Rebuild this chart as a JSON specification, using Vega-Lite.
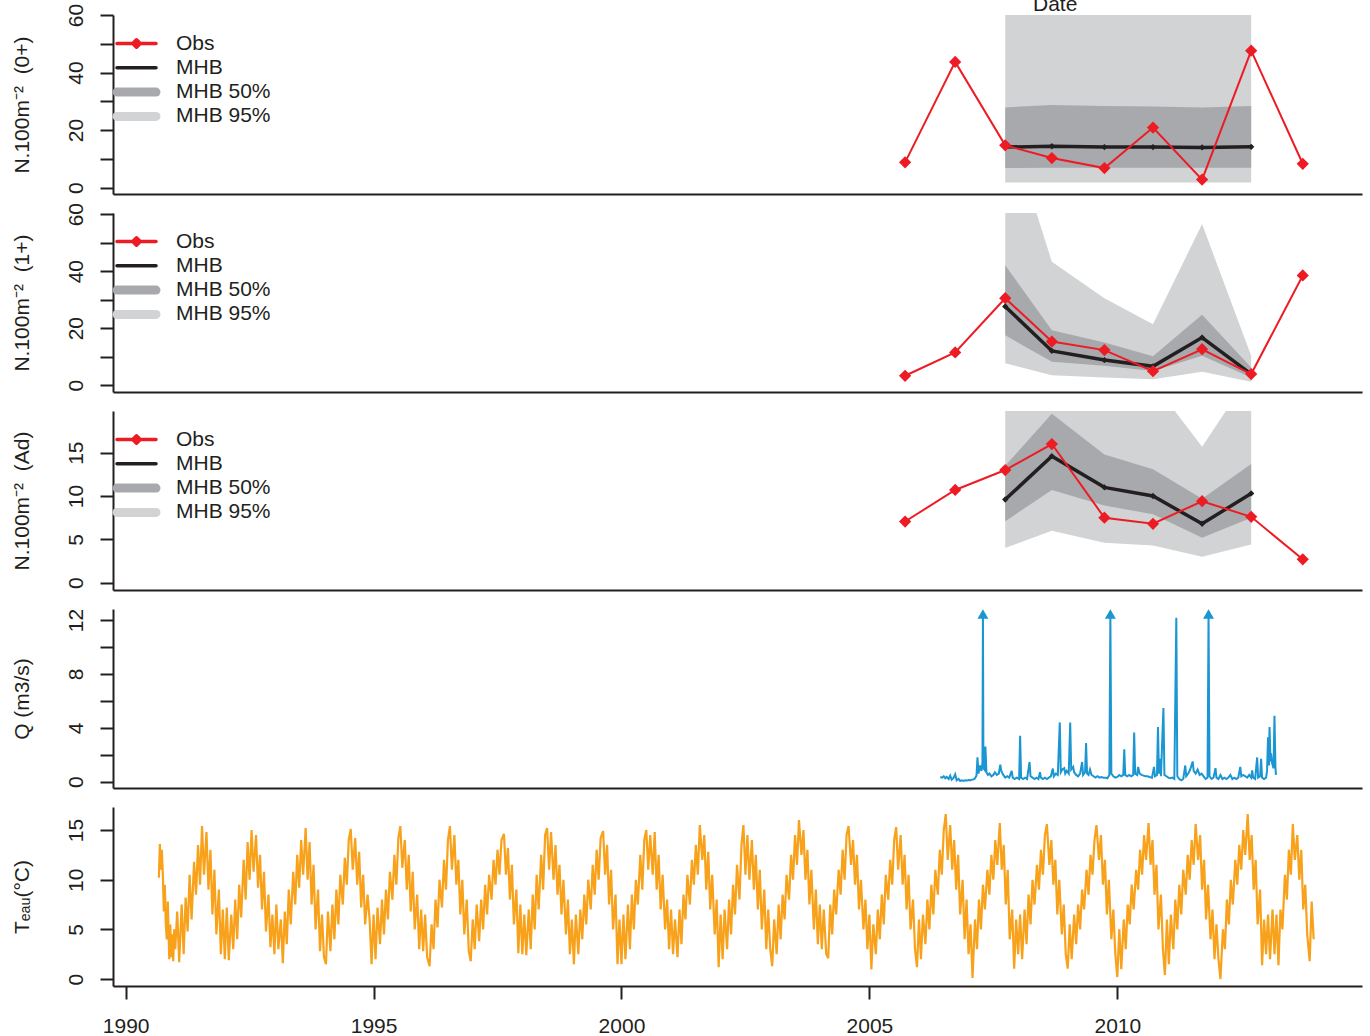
{
"$schema": "https://vega.github.io/schema/vega-lite/v6.json",
"padding": {"left": 11, "top": -6, "right": 2, "bottom": 0},
"background": "white",
"spacing": 19,
"bounds": "flush",
"config": {
  "view": {"stroke": null},
  "font": "Liberation Sans",
  "axis": {"domainColor": "#231F20", "domainWidth": 2, "tickColor": "#231F20", "tickWidth": 2, "tickSize": 13, "grid": false, "labelFont": "Liberation Sans", "labelFontSize": 21, "labelColor": "#231F20", "titleFont": "Liberation Sans", "titleFontSize": 21, "titleFontWeight": "normal", "titleColor": "#231F20", "labelFlush": false, "labelOverlap": false},
  "axisY": {"labelAngle": 270, "labelAlign": "center", "labelBaseline": "alphabetic", "labelPadding": 18, "titleAngle": 270, "titleX": -85, "titleY": 89.5, "titleAlign": "center", "titleBaseline": "alphabetic"}
},
"resolve": {"scale": {"color": "independent"}, "legend": {"color": "independent"}},
"datasets": {
  "b1": [
    {"s":"MHB 95%","t":2007.74,"v":1.8,"v2":80},{"s":"MHB 95%","t":2008.68,"v":1.8,"v2":80},{"s":"MHB 95%","t":2009.74,"v":1.8,"v2":80},{"s":"MHB 95%","t":2010.72,"v":1.8,"v2":80},{"s":"MHB 95%","t":2011.71,"v":1.8,"v2":80},{"s":"MHB 95%","t":2012.70,"v":1.8,"v2":80},
    {"s":"MHB 50%","t":2007.74,"v":6.8,"v2":27.9},{"s":"MHB 50%","t":2008.68,"v":6.9,"v2":28.7},{"s":"MHB 50%","t":2009.74,"v":6.9,"v2":28.4},{"s":"MHB 50%","t":2010.72,"v":6.9,"v2":28.2},{"s":"MHB 50%","t":2011.71,"v":6.9,"v2":27.9},{"s":"MHB 50%","t":2012.70,"v":6.9,"v2":28.4}
  ],
  "l1": [
    {"s":"Obs","t":2005.72,"v":8.8},{"s":"Obs","t":2006.73,"v":43.7},{"s":"Obs","t":2007.74,"v":14.7},{"s":"Obs","t":2008.68,"v":10.3},{"s":"Obs","t":2009.74,"v":6.8},{"s":"Obs","t":2010.72,"v":20.9},{"s":"Obs","t":2011.71,"v":2.8},{"s":"Obs","t":2012.70,"v":47.6},{"s":"Obs","t":2013.74,"v":8.3},
    {"s":"MHB","t":2007.74,"v":14.1},{"s":"MHB","t":2008.68,"v":14.4},{"s":"MHB","t":2009.74,"v":14.1},{"s":"MHB","t":2010.72,"v":14.1},{"s":"MHB","t":2011.71,"v":14.0},{"s":"MHB","t":2012.70,"v":14.2}
  ],
  "b2": [
    {"s":"MHB 95%","t":2007.74,"v":7.7,"v2":95},{"s":"MHB 95%","t":2008.68,"v":3.5,"v2":43.3},{"s":"MHB 95%","t":2009.74,"v":2.7,"v2":30.5},{"s":"MHB 95%","t":2010.72,"v":2.1,"v2":21.4},{"s":"MHB 95%","t":2011.71,"v":4.7,"v2":56.5},{"s":"MHB 95%","t":2012.70,"v":1.2,"v2":10.3},
    {"s":"MHB 50%","t":2007.74,"v":17.5,"v2":42.1},{"s":"MHB 50%","t":2008.68,"v":8.2,"v2":19.3},{"s":"MHB 50%","t":2009.74,"v":6.8,"v2":15.0},{"s":"MHB 50%","t":2010.72,"v":5.0,"v2":10.1},{"s":"MHB 50%","t":2011.71,"v":10.3,"v2":24.7},{"s":"MHB 50%","t":2012.70,"v":2.7,"v2":6.2}
  ],
  "l2": [
    {"s":"Obs","t":2005.72,"v":3.3},{"s":"Obs","t":2006.73,"v":11.5},{"s":"Obs","t":2007.74,"v":30.5},{"s":"Obs","t":2008.68,"v":15.3},{"s":"Obs","t":2009.74,"v":12.3},{"s":"Obs","t":2010.72,"v":4.9},{"s":"Obs","t":2011.71,"v":12.6},{"s":"Obs","t":2012.70,"v":3.9},{"s":"Obs","t":2013.74,"v":38.5},
    {"s":"MHB","t":2007.74,"v":27.6},{"s":"MHB","t":2008.68,"v":12.0},{"s":"MHB","t":2009.74,"v":8.8},{"s":"MHB","t":2010.72,"v":6.6},{"s":"MHB","t":2011.71,"v":16.7},{"s":"MHB","t":2012.70,"v":3.9}
  ],
  "b3": [
    {"s":"MHB 95%","t":2007.74,"v":4.0,"v2":25},{"s":"MHB 95%","t":2008.68,"v":6.0,"v2":30},{"s":"MHB 95%","t":2009.74,"v":4.6,"v2":26},{"s":"MHB 95%","t":2010.72,"v":4.3,"v2":23.1},{"s":"MHB 95%","t":2011.71,"v":3.0,"v2":15.7},{"s":"MHB 95%","t":2012.70,"v":4.4,"v2":24.2},
    {"s":"MHB 50%","t":2007.74,"v":7.1,"v2":13.5},{"s":"MHB 50%","t":2008.68,"v":10.7,"v2":19.5},{"s":"MHB 50%","t":2009.74,"v":8.9,"v2":14.8},{"s":"MHB 50%","t":2010.72,"v":7.9,"v2":13.1},{"s":"MHB 50%","t":2011.71,"v":5.2,"v2":9.7},{"s":"MHB 50%","t":2012.70,"v":7.5,"v2":13.7}
  ],
  "l3": [
    {"s":"Obs","t":2005.72,"v":7.06},{"s":"Obs","t":2006.73,"v":10.7},{"s":"Obs","t":2007.74,"v":13.0},{"s":"Obs","t":2008.68,"v":16.0},{"s":"Obs","t":2009.74,"v":7.5},{"s":"Obs","t":2010.72,"v":6.8},{"s":"Obs","t":2011.71,"v":9.4},{"s":"Obs","t":2012.70,"v":7.6},{"s":"Obs","t":2013.74,"v":2.7},
    {"s":"MHB","t":2007.74,"v":9.6},{"s":"MHB","t":2008.68,"v":14.6},{"s":"MHB","t":2009.74,"v":11.0},{"s":"MHB","t":2010.72,"v":10.0},{"s":"MHB","t":2011.71,"v":6.8},{"s":"MHB","t":2012.70,"v":10.3}
  ],
  "arrows": [{"t":2007.29,"q":12.45},{"t":2009.86,"q":12.45},{"t":2011.84,"q":12.45}],
  "q": [
    {"t":2006.43,"q":0.35},{"t":2006.47,"q":0.30},{"t":2006.50,"q":0.40},{"t":2006.53,"q":0.25},{"t":2006.56,"q":0.35},{"t":2006.60,"q":0.20},{"t":2006.63,"q":0.45},{"t":2006.66,"q":0.15},{"t":2006.70,"q":0.30},{"t":2006.73,"q":0.55},{"t":2006.76,"q":0.10},{"t":2006.80,"q":0.20},{"t":2006.83,"q":0.05},{"t":2006.86,"q":0.10},{"t":2006.90,"q":0.05},{"t":2006.93,"q":0.10},{"t":2006.97,"q":0.08},{"t":2007.00,"q":0.12},{"t":2007.04,"q":0.10},{"t":2007.08,"q":0.15},{"t":2007.12,"q":0.20},{"t":2007.16,"q":0.45},{"t":2007.18,"q":1.80},{"t":2007.20,"q":0.60},{"t":2007.23,"q":1.20},{"t":2007.26,"q":0.80},{"t":2007.28,"q":1.40},{"t":2007.29,"q":12.40},{"t":2007.30,"q":1.00},{"t":2007.32,"q":0.90},{"t":2007.34,"q":2.60},{"t":2007.36,"q":0.70},{"t":2007.39,"q":0.50},{"t":2007.42,"q":0.60},{"t":2007.46,"q":0.40},{"t":2007.50,"q":0.50},{"t":2007.53,"q":0.70},{"t":2007.57,"q":0.50},{"t":2007.61,"q":0.60},{"t":2007.64,"q":1.26},{"t":2007.66,"q":0.80},{"t":2007.70,"q":0.50},{"t":2007.74,"q":0.30},{"t":2007.78,"q":0.40},{"t":2007.82,"q":0.30},{"t":2007.87,"q":0.80},{"t":2007.89,"q":0.30},{"t":2007.93,"q":0.20},{"t":2007.97,"q":0.30},{"t":2008.02,"q":0.20},{"t":2008.04,"q":3.40},{"t":2008.06,"q":0.30},{"t":2008.10,"q":0.20},{"t":2008.14,"q":0.30},{"t":2008.18,"q":0.20},{"t":2008.23,"q":1.46},{"t":2008.25,"q":0.40},{"t":2008.29,"q":0.30},{"t":2008.33,"q":0.20},{"t":2008.37,"q":0.30},{"t":2008.41,"q":0.20},{"t":2008.44,"q":0.70},{"t":2008.46,"q":0.30},{"t":2008.50,"q":0.20},{"t":2008.54,"q":0.30},{"t":2008.58,"q":0.20},{"t":2008.62,"q":0.30},{"t":2008.66,"q":0.40},{"t":2008.70,"q":0.97},{"t":2008.72,"q":0.40},{"t":2008.76,"q":0.60},{"t":2008.80,"q":0.50},{"t":2008.84,"q":4.40},{"t":2008.86,"q":0.70},{"t":2008.89,"q":0.90},{"t":2008.93,"q":1.00},{"t":2008.95,"q":0.60},{"t":2008.98,"q":0.80},{"t":2009.02,"q":0.60},{"t":2009.05,"q":4.40},{"t":2009.07,"q":0.90},{"t":2009.11,"q":1.10},{"t":2009.13,"q":0.70},{"t":2009.17,"q":0.50},{"t":2009.21,"q":0.40},{"t":2009.25,"q":0.60},{"t":2009.29,"q":1.46},{"t":2009.31,"q":0.50},{"t":2009.35,"q":0.70},{"t":2009.37,"q":2.86},{"t":2009.39,"q":0.60},{"t":2009.42,"q":0.50},{"t":2009.45,"q":0.90},{"t":2009.48,"q":0.50},{"t":2009.52,"q":0.40},{"t":2009.56,"q":0.30},{"t":2009.60,"q":0.40},{"t":2009.64,"q":0.30},{"t":2009.68,"q":0.35},{"t":2009.72,"q":0.30},{"t":2009.76,"q":0.30},{"t":2009.80,"q":0.25},{"t":2009.84,"q":0.50},{"t":2009.86,"q":12.40},{"t":2009.88,"q":0.60},{"t":2009.92,"q":0.40},{"t":2009.96,"q":0.30},{"t":2010.00,"q":0.35},{"t":2010.04,"q":0.50},{"t":2010.08,"q":0.40},{"t":2010.12,"q":0.50},{"t":2010.14,"q":2.40},{"t":2010.16,"q":0.50},{"t":2010.20,"q":0.40},{"t":2010.24,"q":0.50},{"t":2010.28,"q":0.40},{"t":2010.32,"q":0.50},{"t":2010.34,"q":3.65},{"t":2010.36,"q":0.60},{"t":2010.40,"q":0.50},{"t":2010.42,"q":1.10},{"t":2010.45,"q":0.60},{"t":2010.49,"q":0.50},{"t":2010.53,"q":0.45},{"t":2010.57,"q":0.40},{"t":2010.61,"q":0.40},{"t":2010.65,"q":0.35},{"t":2010.70,"q":0.30},{"t":2010.74,"q":1.10},{"t":2010.76,"q":0.40},{"t":2010.80,"q":0.50},{"t":2010.82,"q":4.05},{"t":2010.84,"q":0.60},{"t":2010.86,"q":1.70},{"t":2010.88,"q":0.40},{"t":2010.93,"q":5.46},{"t":2010.95,"q":0.50},{"t":2010.99,"q":0.40},{"t":2011.03,"q":0.30},{"t":2011.07,"q":0.25},{"t":2011.11,"q":0.30},{"t":2011.15,"q":0.20},{"t":2011.19,"q":12.17},{"t":2011.21,"q":0.40},{"t":2011.25,"q":0.20},{"t":2011.29,"q":0.10},{"t":2011.33,"q":0.20},{"t":2011.37,"q":1.20},{"t":2011.39,"q":0.40},{"t":2011.43,"q":0.60},{"t":2011.47,"q":0.90},{"t":2011.52,"q":1.50},{"t":2011.54,"q":0.80},{"t":2011.58,"q":0.60},{"t":2011.62,"q":0.90},{"t":2011.66,"q":0.50},{"t":2011.70,"q":0.60},{"t":2011.74,"q":0.40},{"t":2011.78,"q":0.20},{"t":2011.82,"q":0.30},{"t":2011.84,"q":12.40},{"t":2011.86,"q":0.40},{"t":2011.90,"q":0.20},{"t":2011.94,"q":0.30},{"t":2011.98,"q":1.00},{"t":2012.00,"q":0.30},{"t":2012.04,"q":0.20},{"t":2012.08,"q":0.50},{"t":2012.12,"q":0.20},{"t":2012.16,"q":0.30},{"t":2012.20,"q":0.20},{"t":2012.24,"q":0.30},{"t":2012.28,"q":0.50},{"t":2012.32,"q":0.20},{"t":2012.36,"q":0.30},{"t":2012.40,"q":0.20},{"t":2012.44,"q":0.30},{"t":2012.48,"q":1.10},{"t":2012.50,"q":0.40},{"t":2012.54,"q":0.50},{"t":2012.58,"q":0.40},{"t":2012.62,"q":0.30},{"t":2012.66,"q":0.50},{"t":2012.70,"q":0.30},{"t":2012.72,"q":0.83},{"t":2012.74,"q":0.30},{"t":2012.78,"q":0.20},{"t":2012.82,"q":1.80},{"t":2012.84,"q":0.30},{"t":2012.88,"q":0.40},{"t":2012.90,"q":1.70},{"t":2012.92,"q":0.30},{"t":2012.96,"q":0.20},{"t":2013.00,"q":0.30},{"t":2013.02,"q":0.80},{"t":2013.04,"q":3.30},{"t":2013.06,"q":1.20},{"t":2013.07,"q":4.05},{"t":2013.09,"q":1.50},{"t":2013.10,"q":2.10},{"t":2013.12,"q":1.40},{"t":2013.15,"q":1.00},{"t":2013.17,"q":4.90},{"t":2013.19,"q":1.00},{"t":2013.20,"q":0.50}
  ],
  "temp": [
    {"t":1990.67,"v":10.2},{"t":1990.69,"v":13.6},{"t":1990.71,"v":11.0},{"t":1990.73,"v":13.0},{"t":1990.75,"v":10.5},{"t":1990.77,"v":6.8},{"t":1990.79,"v":9.5},{"t":1990.81,"v":5.5},{"t":1990.83,"v":4.0},{"t":1990.85,"v":7.8},{"t":1990.88,"v":2.0},{"t":1990.90,"v":5.5},{"t":1990.92,"v":2.2},{"t":1990.94,"v":4.5},{"t":1990.96,"v":1.8},{"t":1990.98,"v":5.0},
    {"t":1991.00,"v":3.0},{"t":1991.04,"v":6.8},{"t":1991.08,"v":1.7},{"t":1991.13,"v":7.5},{"t":1991.17,"v":2.5},{"t":1991.21,"v":8.2},{"t":1991.25,"v":4.8},{"t":1991.29,"v":10.5},{"t":1991.33,"v":6.0},{"t":1991.38,"v":11.8},{"t":1991.42,"v":8.5},{"t":1991.46,"v":13.5},{"t":1991.50,"v":9.5},{"t":1991.54,"v":15.4},{"t":1991.58,"v":10.5},{"t":1991.63,"v":14.8},{"t":1991.67,"v":9.0},{"t":1991.71,"v":13.0},{"t":1991.75,"v":6.5},{"t":1991.79,"v":11.0},{"t":1991.83,"v":4.5},{"t":1991.88,"v":9.0},{"t":1991.92,"v":2.5},{"t":1991.96,"v":7.0},
    {"t":1992.00,"v":2.0},{"t":1992.04,"v":7.2},{"t":1992.08,"v":1.9},{"t":1992.13,"v":6.5},{"t":1992.17,"v":3.0},{"t":1992.21,"v":8.0},{"t":1992.25,"v":4.0},{"t":1992.29,"v":9.5},{"t":1992.33,"v":6.2},{"t":1992.38,"v":12.0},{"t":1992.42,"v":8.0},{"t":1992.46,"v":13.8},{"t":1992.50,"v":10.0},{"t":1992.54,"v":15.0},{"t":1992.58,"v":10.8},{"t":1992.63,"v":14.5},{"t":1992.67,"v":9.2},{"t":1992.71,"v":12.5},{"t":1992.75,"v":7.0},{"t":1992.79,"v":10.8},{"t":1992.83,"v":4.8},{"t":1992.88,"v":8.5},{"t":1992.92,"v":3.2},{"t":1992.96,"v":6.5},
    {"t":1993.00,"v":2.5},{"t":1993.04,"v":7.5},{"t":1993.08,"v":3.0},{"t":1993.13,"v":6.0},{"t":1993.17,"v":1.6},{"t":1993.21,"v":6.8},{"t":1993.25,"v":3.5},{"t":1993.29,"v":9.0},{"t":1993.33,"v":5.5},{"t":1993.38,"v":10.8},{"t":1993.42,"v":7.5},{"t":1993.46,"v":12.5},{"t":1993.50,"v":9.2},{"t":1993.54,"v":14.0},{"t":1993.58,"v":10.5},{"t":1993.63,"v":15.2},{"t":1993.67,"v":10.0},{"t":1993.71,"v":13.8},{"t":1993.75,"v":7.5},{"t":1993.79,"v":11.5},{"t":1993.83,"v":5.0},{"t":1993.88,"v":9.0},{"t":1993.92,"v":2.8},{"t":1993.96,"v":6.5},
    {"t":1994.00,"v":2.2},{"t":1994.04,"v":1.5},{"t":1994.08,"v":6.8},{"t":1994.13,"v":2.8},{"t":1994.17,"v":7.5},{"t":1994.21,"v":4.0},{"t":1994.25,"v":9.0},{"t":1994.29,"v":5.5},{"t":1994.33,"v":10.5},{"t":1994.38,"v":7.5},{"t":1994.42,"v":12.2},{"t":1994.46,"v":9.5},{"t":1994.50,"v":14.0},{"t":1994.54,"v":15.1},{"t":1994.58,"v":11.0},{"t":1994.63,"v":14.2},{"t":1994.67,"v":9.5},{"t":1994.71,"v":12.8},{"t":1994.75,"v":7.2},{"t":1994.79,"v":10.5},{"t":1994.83,"v":5.5},{"t":1994.88,"v":8.5},{"t":1994.92,"v":6.0},{"t":1994.96,"v":1.5},
    {"t":1995.00,"v":6.5},{"t":1995.04,"v":2.0},{"t":1995.08,"v":7.2},{"t":1995.13,"v":3.5},{"t":1995.17,"v":8.0},{"t":1995.21,"v":4.5},{"t":1995.25,"v":9.0},{"t":1995.29,"v":6.0},{"t":1995.33,"v":10.8},{"t":1995.38,"v":8.0},{"t":1995.42,"v":12.5},{"t":1995.46,"v":9.5},{"t":1995.50,"v":14.2},{"t":1995.54,"v":15.4},{"t":1995.58,"v":11.2},{"t":1995.63,"v":14.0},{"t":1995.67,"v":9.0},{"t":1995.71,"v":12.5},{"t":1995.75,"v":6.8},{"t":1995.79,"v":10.8},{"t":1995.83,"v":5.0},{"t":1995.88,"v":8.5},{"t":1995.92,"v":3.0},{"t":1995.96,"v":7.0},
    {"t":1996.00,"v":2.8},{"t":1996.04,"v":6.5},{"t":1996.08,"v":2.2},{"t":1996.13,"v":1.3},{"t":1996.17,"v":5.5},{"t":1996.21,"v":3.0},{"t":1996.25,"v":8.0},{"t":1996.29,"v":5.2},{"t":1996.33,"v":10.0},{"t":1996.38,"v":7.2},{"t":1996.42,"v":12.0},{"t":1996.46,"v":9.0},{"t":1996.50,"v":14.0},{"t":1996.54,"v":15.4},{"t":1996.58,"v":11.0},{"t":1996.63,"v":14.5},{"t":1996.67,"v":9.5},{"t":1996.71,"v":12.0},{"t":1996.75,"v":6.5},{"t":1996.79,"v":10.0},{"t":1996.83,"v":4.5},{"t":1996.88,"v":8.0},{"t":1996.92,"v":2.8},{"t":1996.96,"v":1.8},
    {"t":1997.00,"v":6.0},{"t":1997.04,"v":3.0},{"t":1997.08,"v":7.5},{"t":1997.13,"v":3.8},{"t":1997.17,"v":8.0},{"t":1997.21,"v":5.0},{"t":1997.25,"v":9.5},{"t":1997.29,"v":6.5},{"t":1997.33,"v":10.5},{"t":1997.38,"v":8.0},{"t":1997.42,"v":12.0},{"t":1997.46,"v":9.5},{"t":1997.50,"v":13.0},{"t":1997.54,"v":10.5},{"t":1997.58,"v":14.0},{"t":1997.63,"v":14.6},{"t":1997.67,"v":10.5},{"t":1997.71,"v":13.2},{"t":1997.75,"v":8.0},{"t":1997.79,"v":11.5},{"t":1997.83,"v":5.5},{"t":1997.88,"v":9.0},{"t":1997.92,"v":2.6},{"t":1997.96,"v":7.5},
    {"t":1998.00,"v":2.5},{"t":1998.04,"v":6.5},{"t":1998.08,"v":2.4},{"t":1998.13,"v":7.0},{"t":1998.17,"v":3.0},{"t":1998.21,"v":8.5},{"t":1998.25,"v":5.0},{"t":1998.29,"v":10.5},{"t":1998.33,"v":7.0},{"t":1998.38,"v":12.5},{"t":1998.42,"v":9.0},{"t":1998.46,"v":14.5},{"t":1998.50,"v":15.2},{"t":1998.54,"v":11.0},{"t":1998.58,"v":14.8},{"t":1998.63,"v":10.0},{"t":1998.67,"v":13.5},{"t":1998.71,"v":8.5},{"t":1998.75,"v":11.5},{"t":1998.79,"v":6.5},{"t":1998.83,"v":10.0},{"t":1998.88,"v":4.5},{"t":1998.92,"v":8.0},{"t":1998.96,"v":2.5},
    {"t":1999.00,"v":6.0},{"t":1999.04,"v":1.5},{"t":1999.08,"v":6.5},{"t":1999.13,"v":2.5},{"t":1999.17,"v":7.0},{"t":1999.21,"v":4.0},{"t":1999.25,"v":8.5},{"t":1999.29,"v":5.5},{"t":1999.33,"v":10.0},{"t":1999.38,"v":7.0},{"t":1999.42,"v":11.5},{"t":1999.46,"v":8.5},{"t":1999.50,"v":13.0},{"t":1999.54,"v":10.0},{"t":1999.58,"v":14.2},{"t":1999.63,"v":14.9},{"t":1999.67,"v":10.5},{"t":1999.71,"v":13.5},{"t":1999.75,"v":7.5},{"t":1999.79,"v":11.0},{"t":1999.83,"v":5.0},{"t":1999.88,"v":8.5},{"t":1999.92,"v":1.5},{"t":1999.96,"v":6.0},
    {"t":2000.00,"v":1.5},{"t":2000.04,"v":6.5},{"t":2000.08,"v":2.0},{"t":2000.13,"v":7.5},{"t":2000.17,"v":3.0},{"t":2000.21,"v":8.5},{"t":2000.25,"v":5.0},{"t":2000.29,"v":10.0},{"t":2000.33,"v":7.5},{"t":2000.38,"v":12.5},{"t":2000.42,"v":9.0},{"t":2000.46,"v":14.0},{"t":2000.50,"v":15.0},{"t":2000.54,"v":11.0},{"t":2000.58,"v":14.5},{"t":2000.63,"v":10.5},{"t":2000.67,"v":14.8},{"t":2000.71,"v":9.0},{"t":2000.75,"v":12.5},{"t":2000.79,"v":7.0},{"t":2000.83,"v":10.5},{"t":2000.88,"v":5.0},{"t":2000.92,"v":8.0},{"t":2000.96,"v":3.0},
    {"t":2001.00,"v":7.0},{"t":2001.04,"v":2.5},{"t":2001.08,"v":6.0},{"t":2001.13,"v":2.2},{"t":2001.17,"v":7.0},{"t":2001.21,"v":3.5},{"t":2001.25,"v":8.5},{"t":2001.29,"v":6.0},{"t":2001.33,"v":10.5},{"t":2001.38,"v":7.5},{"t":2001.42,"v":12.0},{"t":2001.46,"v":9.5},{"t":2001.50,"v":13.5},{"t":2001.54,"v":10.5},{"t":2001.58,"v":15.5},{"t":2001.63,"v":12.0},{"t":2001.67,"v":14.5},{"t":2001.71,"v":9.0},{"t":2001.75,"v":12.8},{"t":2001.79,"v":7.0},{"t":2001.83,"v":10.5},{"t":2001.88,"v":4.5},{"t":2001.92,"v":8.0},{"t":2001.96,"v":1.2},
    {"t":2002.00,"v":6.5},{"t":2002.04,"v":2.0},{"t":2002.08,"v":7.0},{"t":2002.13,"v":3.0},{"t":2002.17,"v":8.0},{"t":2002.21,"v":4.5},{"t":2002.25,"v":9.5},{"t":2002.29,"v":6.5},{"t":2002.33,"v":11.5},{"t":2002.38,"v":8.0},{"t":2002.42,"v":13.5},{"t":2002.46,"v":15.5},{"t":2002.50,"v":10.5},{"t":2002.54,"v":14.5},{"t":2002.58,"v":10.0},{"t":2002.63,"v":14.0},{"t":2002.67,"v":9.0},{"t":2002.71,"v":12.5},{"t":2002.75,"v":7.0},{"t":2002.79,"v":11.0},{"t":2002.83,"v":5.0},{"t":2002.88,"v":9.0},{"t":2002.92,"v":3.0},{"t":2002.96,"v":7.0},
    {"t":2003.00,"v":3.0},{"t":2003.04,"v":1.3},{"t":2003.08,"v":6.0},{"t":2003.13,"v":2.5},{"t":2003.17,"v":7.5},{"t":2003.21,"v":4.0},{"t":2003.25,"v":8.5},{"t":2003.29,"v":6.0},{"t":2003.33,"v":10.5},{"t":2003.38,"v":8.0},{"t":2003.42,"v":12.5},{"t":2003.46,"v":10.0},{"t":2003.50,"v":14.5},{"t":2003.54,"v":11.5},{"t":2003.58,"v":16.0},{"t":2003.63,"v":12.5},{"t":2003.67,"v":15.0},{"t":2003.71,"v":10.0},{"t":2003.75,"v":13.0},{"t":2003.79,"v":7.5},{"t":2003.83,"v":11.0},{"t":2003.88,"v":5.0},{"t":2003.92,"v":9.0},{"t":2003.96,"v":3.5},
    {"t":2004.00,"v":7.5},{"t":2004.04,"v":3.0},{"t":2004.08,"v":7.0},{"t":2004.13,"v":2.5},{"t":2004.17,"v":2.1},{"t":2004.21,"v":7.5},{"t":2004.25,"v":4.5},{"t":2004.29,"v":9.0},{"t":2004.33,"v":6.5},{"t":2004.38,"v":11.0},{"t":2004.42,"v":8.5},{"t":2004.46,"v":13.0},{"t":2004.50,"v":10.0},{"t":2004.54,"v":14.5},{"t":2004.58,"v":15.4},{"t":2004.63,"v":11.5},{"t":2004.67,"v":14.0},{"t":2004.71,"v":9.5},{"t":2004.75,"v":12.5},{"t":2004.79,"v":7.0},{"t":2004.83,"v":10.0},{"t":2004.88,"v":5.0},{"t":2004.92,"v":8.0},{"t":2004.96,"v":3.0},
    {"t":2005.00,"v":6.5},{"t":2005.04,"v":0.96},{"t":2005.08,"v":5.5},{"t":2005.13,"v":2.5},{"t":2005.17,"v":7.0},{"t":2005.21,"v":4.0},{"t":2005.25,"v":8.5},{"t":2005.29,"v":5.5},{"t":2005.33,"v":10.5},{"t":2005.38,"v":8.0},{"t":2005.42,"v":12.0},{"t":2005.46,"v":9.5},{"t":2005.50,"v":14.0},{"t":2005.54,"v":15.3},{"t":2005.58,"v":11.0},{"t":2005.63,"v":14.5},{"t":2005.67,"v":9.5},{"t":2005.71,"v":12.5},{"t":2005.75,"v":7.0},{"t":2005.79,"v":10.5},{"t":2005.83,"v":5.0},{"t":2005.88,"v":8.0},{"t":2005.92,"v":3.0},{"t":2005.96,"v":1.2},
    {"t":2006.00,"v":6.0},{"t":2006.04,"v":2.0},{"t":2006.08,"v":6.5},{"t":2006.13,"v":3.5},{"t":2006.17,"v":8.0},{"t":2006.21,"v":5.0},{"t":2006.25,"v":9.5},{"t":2006.29,"v":6.5},{"t":2006.33,"v":11.0},{"t":2006.38,"v":8.5},{"t":2006.42,"v":13.0},{"t":2006.46,"v":10.5},{"t":2006.50,"v":15.0},{"t":2006.54,"v":16.6},{"t":2006.58,"v":12.0},{"t":2006.63,"v":15.5},{"t":2006.67,"v":11.0},{"t":2006.71,"v":14.0},{"t":2006.75,"v":9.0},{"t":2006.79,"v":12.5},{"t":2006.83,"v":6.5},{"t":2006.88,"v":10.0},{"t":2006.92,"v":4.0},{"t":2006.96,"v":8.0},
    {"t":2007.00,"v":2.5},{"t":2007.04,"v":5.5},{"t":2007.08,"v":0.1},{"t":2007.13,"v":6.0},{"t":2007.17,"v":3.0},{"t":2007.21,"v":8.0},{"t":2007.25,"v":5.0},{"t":2007.29,"v":9.5},{"t":2007.33,"v":7.0},{"t":2007.38,"v":11.0},{"t":2007.42,"v":8.5},{"t":2007.46,"v":12.5},{"t":2007.50,"v":10.0},{"t":2007.54,"v":14.0},{"t":2007.58,"v":11.5},{"t":2007.63,"v":15.7},{"t":2007.67,"v":11.0},{"t":2007.71,"v":13.5},{"t":2007.75,"v":7.5},{"t":2007.79,"v":11.0},{"t":2007.83,"v":4.0},{"t":2007.88,"v":7.0},{"t":2007.92,"v":1.05},{"t":2007.96,"v":6.0},
    {"t":2008.00,"v":2.5},{"t":2008.04,"v":6.5},{"t":2008.08,"v":2.0},{"t":2008.13,"v":7.0},{"t":2008.17,"v":3.5},{"t":2008.21,"v":8.5},{"t":2008.25,"v":5.5},{"t":2008.29,"v":10.0},{"t":2008.33,"v":7.5},{"t":2008.38,"v":11.5},{"t":2008.42,"v":9.0},{"t":2008.46,"v":13.0},{"t":2008.50,"v":10.5},{"t":2008.54,"v":14.5},{"t":2008.58,"v":15.6},{"t":2008.63,"v":11.5},{"t":2008.67,"v":14.0},{"t":2008.71,"v":9.5},{"t":2008.75,"v":12.0},{"t":2008.79,"v":6.5},{"t":2008.83,"v":10.0},{"t":2008.88,"v":4.5},{"t":2008.92,"v":7.5},{"t":2008.96,"v":2.5},
    {"t":2009.00,"v":1.05},{"t":2009.04,"v":5.5},{"t":2009.08,"v":2.0},{"t":2009.13,"v":6.5},{"t":2009.17,"v":3.5},{"t":2009.21,"v":7.5},{"t":2009.25,"v":5.0},{"t":2009.29,"v":9.0},{"t":2009.33,"v":7.0},{"t":2009.38,"v":11.0},{"t":2009.42,"v":8.5},{"t":2009.46,"v":12.5},{"t":2009.50,"v":10.5},{"t":2009.54,"v":14.0},{"t":2009.58,"v":15.5},{"t":2009.63,"v":12.0},{"t":2009.67,"v":14.5},{"t":2009.71,"v":9.5},{"t":2009.75,"v":12.0},{"t":2009.79,"v":6.5},{"t":2009.83,"v":10.0},{"t":2009.88,"v":4.0},{"t":2009.92,"v":7.0},{"t":2009.96,"v":2.5},
    {"t":2010.00,"v":0.2},{"t":2010.04,"v":5.0},{"t":2010.08,"v":1.0},{"t":2010.13,"v":6.0},{"t":2010.17,"v":3.0},{"t":2010.21,"v":7.5},{"t":2010.25,"v":5.5},{"t":2010.29,"v":9.5},{"t":2010.33,"v":7.0},{"t":2010.38,"v":11.0},{"t":2010.42,"v":9.0},{"t":2010.46,"v":13.0},{"t":2010.50,"v":10.5},{"t":2010.54,"v":14.5},{"t":2010.58,"v":12.0},{"t":2010.63,"v":15.7},{"t":2010.67,"v":11.5},{"t":2010.71,"v":14.0},{"t":2010.75,"v":8.5},{"t":2010.79,"v":11.5},{"t":2010.83,"v":5.0},{"t":2010.88,"v":8.5},{"t":2010.92,"v":3.0},{"t":2010.96,"v":0.4},
    {"t":2011.00,"v":6.0},{"t":2011.04,"v":1.5},{"t":2011.08,"v":6.5},{"t":2011.13,"v":3.0},{"t":2011.17,"v":8.0},{"t":2011.21,"v":5.0},{"t":2011.25,"v":9.5},{"t":2011.29,"v":6.5},{"t":2011.33,"v":11.0},{"t":2011.38,"v":8.5},{"t":2011.42,"v":12.5},{"t":2011.46,"v":10.0},{"t":2011.50,"v":14.0},{"t":2011.54,"v":11.5},{"t":2011.58,"v":15.6},{"t":2011.63,"v":12.0},{"t":2011.67,"v":14.5},{"t":2011.71,"v":9.0},{"t":2011.75,"v":12.0},{"t":2011.79,"v":6.0},{"t":2011.83,"v":9.5},{"t":2011.88,"v":4.0},{"t":2011.92,"v":7.0},{"t":2011.96,"v":2.0},
    {"t":2012.00,"v":5.5},{"t":2012.04,"v":2.0},{"t":2012.08,"v":0.0},{"t":2012.13,"v":5.0},{"t":2012.17,"v":3.0},{"t":2012.21,"v":8.0},{"t":2012.25,"v":5.5},{"t":2012.29,"v":10.0},{"t":2012.33,"v":7.5},{"t":2012.38,"v":12.0},{"t":2012.42,"v":9.5},{"t":2012.46,"v":13.5},{"t":2012.50,"v":11.0},{"t":2012.54,"v":15.0},{"t":2012.58,"v":12.5},{"t":2012.63,"v":16.6},{"t":2012.67,"v":12.0},{"t":2012.71,"v":14.5},{"t":2012.75,"v":9.0},{"t":2012.79,"v":12.0},{"t":2012.83,"v":5.5},{"t":2012.88,"v":9.0},{"t":2012.92,"v":1.4},{"t":2012.96,"v":6.0},
    {"t":2013.00,"v":2.5},{"t":2013.04,"v":6.5},{"t":2013.08,"v":2.0},{"t":2013.13,"v":7.0},{"t":2013.17,"v":2.5},{"t":2013.21,"v":6.5},{"t":2013.25,"v":1.4},{"t":2013.29,"v":7.0},{"t":2013.33,"v":5.0},{"t":2013.38,"v":10.5},{"t":2013.42,"v":8.0},{"t":2013.46,"v":13.0},{"t":2013.50,"v":10.5},{"t":2013.54,"v":15.6},{"t":2013.58,"v":12.0},{"t":2013.63,"v":14.5},{"t":2013.67,"v":10.0},{"t":2013.71,"v":13.0},{"t":2013.75,"v":7.0},{"t":2013.79,"v":9.5},{"t":2013.83,"v":4.5},{"t":2013.88,"v":1.8},{"t":2013.92,"v":7.8},{"t":2013.96,"v":4.0}
  ]
},
"vconcat": [
  {
    "width": 1249, "height": 179,
    "title": {"text": "Date", "anchor": "start", "frame": "group", "dx": 920, "offset": -28.7, "baseline": "alphabetic", "fontSize": 21, "fontWeight": "normal", "font": "Liberation Sans", "color": "#231F20"},
    "encoding": {
      "x": {"field": "t", "type": "quantitative", "scale": {"domain": [1989.745, 2014.935], "nice": false, "zero": false}, "axis": {"labels": false, "ticks": false, "title": null}},
      "y": {"field": "v", "type": "quantitative", "scale": {"domain": [-2.2, 60], "nice": false, "zero": false}, "axis": {"values": [0,10,20,30,40,50,60], "labelExpr": "datum.value % 20 === 0 ? datum.label : ''", "title": "N.100m⁻²\u00a0 (0+)"}},
      "color": {"field": "s", "type": "nominal", "scale": {"domain": ["Obs","MHB","MHB 50%","MHB 95%"], "range": ["#ED1C24","#231F20","#A7A9AC","#D1D3D4"]},
        "legend": {"orient": "none", "legendX": 13, "legendY": 18, "title": null, "padding": 0, "symbolSize": 100, "symbolType": "M-3.9,0H3.9", "labelFontSize": 21, "labelFont": "Liberation Sans", "labelColor": "#231F20", "rowPadding": 2.3, "labelOffset": 29,
          "encode": {"symbols": {"update": {
            "shape": {"signal": "datum.value === 'Obs' ? 'M-3.9,0H3.9M0,-0.75L0.75,0L0,0.75L-0.75,0Z' : 'M-3.9,0H3.9'"},
            "stroke": {"signal": "datum.value === 'Obs' ? '#ED1C24' : datum.value === 'MHB' ? '#231F20' : datum.value === 'MHB 50%' ? '#A7A9AC' : '#D1D3D4'"},
            "fill": {"signal": "datum.value === 'Obs' ? '#ED1C24' : 'transparent'"},
            "strokeWidth": {"signal": "datum.value === 'MHB 50%' || datum.value === 'MHB 95%' ? 9 : 3.5"},
            "strokeCap": {"value": "round"},
            "strokeJoin": {"value": "round"},
            "opacity": {"value": 1}}}}}}
    },
    "layer": [
      {"data": {"name": "b1"}, "transform": [{"filter": "datum.s === 'MHB 95%'"}], "mark": {"type": "area", "clip": true, "opacity": 1}, "encoding": {"y2": {"field": "v2"}}},
      {"data": {"name": "b1"}, "transform": [{"filter": "datum.s === 'MHB 50%'"}], "mark": {"type": "area", "clip": true, "opacity": 1}, "encoding": {"y2": {"field": "v2"}}},
      {"data": {"name": "l1"}, "transform": [{"filter": "datum.s === 'MHB'"}], "mark": {"type": "line", "strokeWidth": 3.5, "point": {"shape": "diamond", "size": 40, "opacity": 1}}},
      {"data": {"name": "l1"}, "transform": [{"filter": "datum.s === 'Obs'"}], "mark": {"type": "line", "strokeWidth": 2, "point": {"shape": "diamond", "size": 150, "opacity": 1}}}
    ]
  },
  {
    "width": 1249, "height": 179,
    "encoding": {
      "x": {"field": "t", "type": "quantitative", "scale": {"domain": [1989.745, 2014.935], "nice": false, "zero": false}, "axis": {"labels": false, "ticks": false, "title": null}},
      "y": {"field": "v", "type": "quantitative", "scale": {"domain": [-2.4, 60.4], "nice": false, "zero": false}, "axis": {"values": [0,10,20,30,40,50,60], "labelExpr": "datum.value % 20 === 0 ? datum.label : ''", "title": "N.100m⁻²\u00a0 (1+)"}},
      "color": {"field": "s", "type": "nominal", "scale": {"domain": ["Obs","MHB","MHB 50%","MHB 95%"], "range": ["#ED1C24","#231F20","#A7A9AC","#D1D3D4"]},
        "legend": {"orient": "none", "legendX": 13, "legendY": 18, "title": null, "padding": 0, "symbolSize": 100, "symbolType": "M-3.9,0H3.9", "labelFontSize": 21, "labelFont": "Liberation Sans", "labelColor": "#231F20", "rowPadding": 2.3, "labelOffset": 29,
          "encode": {"symbols": {"update": {
            "shape": {"signal": "datum.value === 'Obs' ? 'M-3.9,0H3.9M0,-0.75L0.75,0L0,0.75L-0.75,0Z' : 'M-3.9,0H3.9'"},
            "stroke": {"signal": "datum.value === 'Obs' ? '#ED1C24' : datum.value === 'MHB' ? '#231F20' : datum.value === 'MHB 50%' ? '#A7A9AC' : '#D1D3D4'"},
            "fill": {"signal": "datum.value === 'Obs' ? '#ED1C24' : 'transparent'"},
            "strokeWidth": {"signal": "datum.value === 'MHB 50%' || datum.value === 'MHB 95%' ? 9 : 3.5"},
            "strokeCap": {"value": "round"},
            "strokeJoin": {"value": "round"},
            "opacity": {"value": 1}}}}}}
    },
    "layer": [
      {"data": {"name": "b2"}, "transform": [{"filter": "datum.s === 'MHB 95%'"}], "mark": {"type": "area", "clip": true, "opacity": 1}, "encoding": {"y2": {"field": "v2"}}},
      {"data": {"name": "b2"}, "transform": [{"filter": "datum.s === 'MHB 50%'"}], "mark": {"type": "area", "clip": true, "opacity": 1}, "encoding": {"y2": {"field": "v2"}}},
      {"data": {"name": "l2"}, "transform": [{"filter": "datum.s === 'MHB'"}], "mark": {"type": "line", "strokeWidth": 3.5, "point": {"shape": "diamond", "size": 40, "opacity": 1}}},
      {"data": {"name": "l2"}, "transform": [{"filter": "datum.s === 'Obs'"}], "mark": {"type": "line", "strokeWidth": 2, "point": {"shape": "diamond", "size": 150, "opacity": 1}}}
    ]
  },
  {
    "width": 1249, "height": 179,
    "encoding": {
      "x": {"field": "t", "type": "quantitative", "scale": {"domain": [1989.745, 2014.935], "nice": false, "zero": false}, "axis": {"labels": false, "ticks": false, "title": null}},
      "y": {"field": "v", "type": "quantitative", "scale": {"domain": [-0.84, 19.81], "nice": false, "zero": false}, "axis": {"values": [0,5,10,15], "title": "N.100m⁻²\u00a0 (Ad)"}},
      "color": {"field": "s", "type": "nominal", "scale": {"domain": ["Obs","MHB","MHB 50%","MHB 95%"], "range": ["#ED1C24","#231F20","#A7A9AC","#D1D3D4"]},
        "legend": {"orient": "none", "legendX": 13, "legendY": 18, "title": null, "padding": 0, "symbolSize": 100, "symbolType": "M-3.9,0H3.9", "labelFontSize": 21, "labelFont": "Liberation Sans", "labelColor": "#231F20", "rowPadding": 2.3, "labelOffset": 29,
          "encode": {"symbols": {"update": {
            "shape": {"signal": "datum.value === 'Obs' ? 'M-3.9,0H3.9M0,-0.75L0.75,0L0,0.75L-0.75,0Z' : 'M-3.9,0H3.9'"},
            "stroke": {"signal": "datum.value === 'Obs' ? '#ED1C24' : datum.value === 'MHB' ? '#231F20' : datum.value === 'MHB 50%' ? '#A7A9AC' : '#D1D3D4'"},
            "fill": {"signal": "datum.value === 'Obs' ? '#ED1C24' : 'transparent'"},
            "strokeWidth": {"signal": "datum.value === 'MHB 50%' || datum.value === 'MHB 95%' ? 9 : 3.5"},
            "strokeCap": {"value": "round"},
            "strokeJoin": {"value": "round"},
            "opacity": {"value": 1}}}}}}
    },
    "layer": [
      {"data": {"name": "b3"}, "transform": [{"filter": "datum.s === 'MHB 95%'"}], "mark": {"type": "area", "clip": true, "opacity": 1}, "encoding": {"y2": {"field": "v2"}}},
      {"data": {"name": "b3"}, "transform": [{"filter": "datum.s === 'MHB 50%'"}], "mark": {"type": "area", "clip": true, "opacity": 1}, "encoding": {"y2": {"field": "v2"}}},
      {"data": {"name": "l3"}, "transform": [{"filter": "datum.s === 'MHB'"}], "mark": {"type": "line", "strokeWidth": 3.5, "point": {"shape": "diamond", "size": 40, "opacity": 1}}},
      {"data": {"name": "l3"}, "transform": [{"filter": "datum.s === 'Obs'"}], "mark": {"type": "line", "strokeWidth": 2, "point": {"shape": "diamond", "size": 150, "opacity": 1}}}
    ]
  },
  {
    "width": 1249, "height": 179,
    "encoding": {
      "x": {"field": "t", "type": "quantitative", "scale": {"domain": [1989.745, 2014.935], "nice": false, "zero": false}, "axis": {"labels": false, "ticks": false, "title": null}},
      "y": {"field": "q", "type": "quantitative", "scale": {"domain": [-0.47, 12.82], "nice": false, "zero": false}, "axis": {"values": [0,2,4,6,8,10,12], "labelExpr": "datum.value % 4 === 0 ? datum.label : ''", "title": "Q (m3/s)"}}
    },
    "layer": [
      {"data": {"name": "q"}, "mark": {"type": "line", "strokeWidth": 2, "color": "#1B96D2"}},
      {"data": {"name": "arrows"}, "mark": {"type": "point", "shape": "triangle-up", "size": 120, "filled": true, "opacity": 1, "color": "#1B96D2"}}
    ]
  },
  {
    "width": 1249, "height": 179,
    "data": {"name": "temp"},
    "mark": {"type": "line", "strokeWidth": 2.2, "color": "#F8A11B"},
    "encoding": {
      "x": {"field": "t", "type": "quantitative", "scale": {"domain": [1989.745, 2014.935], "nice": false, "zero": false}, "axis": {"values": [1990,1995,2000,2005,2010], "format": "d", "title": null, "labelBaseline": "alphabetic", "labelPadding": 33}},
      "y": {"field": "v", "type": "quantitative", "scale": {"domain": [-0.7, 17.32], "nice": false, "zero": false}, "axis": {"values": [0,5,10,15], "title": "Tₑₐᵤ(°C)"}}
    }
  }
]
}
